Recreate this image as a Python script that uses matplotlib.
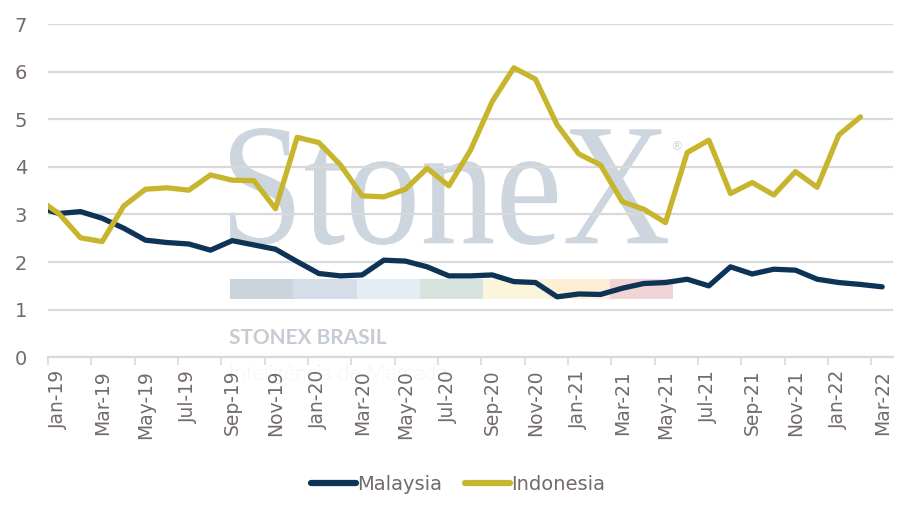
import numpy as np
import matplotlib
matplotlib.use("Agg")
import matplotlib.pyplot as plt
from matplotlib.textpath import TextPath
from matplotlib.font_manager import FontProperties
from matplotlib.patches import PathPatch, Rectangle
from matplotlib.transforms import Affine2D

# monthly series, Dec-18 (only partly visible at the left edge) .. Mar-22
months = ["Dec-18",
          "Jan-19", "Feb-19", "Mar-19", "Apr-19", "May-19", "Jun-19", "Jul-19", "Aug-19",
          "Sep-19", "Oct-19", "Nov-19", "Dec-19",
          "Jan-20", "Feb-20", "Mar-20", "Apr-20", "May-20", "Jun-20", "Jul-20", "Aug-20",
          "Sep-20", "Oct-20", "Nov-20", "Dec-20",
          "Jan-21", "Feb-21", "Mar-21", "Apr-21", "May-21", "Jun-21", "Jul-21", "Aug-21",
          "Sep-21", "Oct-21", "Nov-21", "Dec-21",
          "Jan-22", "Feb-22", "Mar-22"]
malaysia = [3.16,
            3.02, 3.06, 2.92, 2.71, 2.46, 2.41, 2.38, 2.25, 2.45, 2.36, 2.27, 2.01,
            1.76, 1.71, 1.73, 2.04, 2.02, 1.90, 1.71, 1.71, 1.73, 1.59, 1.57, 1.27,
            1.33, 1.32, 1.45, 1.55, 1.57, 1.64, 1.50, 1.90, 1.75, 1.85, 1.83, 1.64,
            1.57, 1.53, 1.48]
indonesia = [3.34,
             3.02, 2.51, 2.43, 3.18, 3.53, 3.56, 3.51, 3.83, 3.72, 3.71, 3.12, 4.62,
             4.51, 4.04, 3.39, 3.37, 3.53, 3.97, 3.60, 4.35, 5.37, 6.08, 5.84, 4.88,
             4.27, 4.04, 3.27, 3.11, 2.83, 4.30, 4.56, 3.44, 3.67, 3.41, 3.90, 3.57,
             4.67, 5.05, np.nan]

navy = "#0d3456"
mustard = "#c8b52e"
txt = "#736a6a"
grid = "#d9d9d9"
W, H = 916, 517

plt.rcParams["font.family"] = ["DejaVu Sans"]
fig = plt.figure(figsize=(W / 100, H / 100), dpi=100)
ax = fig.add_axes([48 / W, 1 - 357.3 / H, (893 - 48) / W, (357.3 - 24) / H])
ax.patch.set_visible(False)


def px(x, y):
    return x / W, 1 - y / H


# watermark, drawn under the axes
tp = TextPath((0, 0), "StoneX", size=100, prop=FontProperties(family="Liberation Serif"))
ext = tp.get_extents()
x0, y0 = px(230, 245)
x1, y1 = px(668, 128)
tr = Affine2D().translate(-ext.x0, -ext.y0).scale((x1 - x0) / ext.width, (y1 - y0) / ext.height).translate(x0, y0)
fig.patches.append(PathPatch(tr.transform_path(tp), transform=fig.transFigure,
                             facecolor="#cdd6df", edgecolor="none", zorder=-5))
fig.text(*px(677, 147), "®", fontsize=9, color="#cdd6df", ha="center", va="center", zorder=-5)
strip = ["#cbd3dc", "#d5dde8", "#e3edf5", "#d5e3dc", "#fbf5dc", "#fdeed6", "#f1d5d6"]
for i, c in enumerate(strip):
    bx, by = px(230 + i * 63.3, 299)
    fig.patches.append(Rectangle((bx, by), 63.3 / W, 20 / H, transform=fig.transFigure,
                                 facecolor=c, edgecolor="none", zorder=-5))
fig.text(*px(229, 338), "STONEX BRASIL", fontsize=15, fontweight="bold", color="#c5ccd3",
         family="Lato", va="center", ha="left", zorder=-5)
fig.text(*px(229, 374), "Inteligência de Mercado", fontsize=15.5, fontweight="light",
         family="Lato", color="#d3dbe3", va="center", ha="left", zorder=-5)

x = np.arange(-1, len(months) - 1)
ax.plot(x, malaysia, color=navy, lw=3.8, solid_capstyle="round", label="Malaysia", zorder=3)
ax.plot(x, indonesia, color=mustard, lw=3.8, solid_capstyle="round", label="Indonesia", zorder=3)

ax.set_xlim(-0.5, 38.5)
ax.set_ylim(0, 7)
ax.set_yticks(range(8))
ax.yaxis.grid(True, color=grid, lw=1.6)
ax.tick_params(axis="y", length=0, pad=15, labelsize=14, labelcolor=txt)

ax.set_xticks(np.arange(-0.5, 38, 2))
ax.set_xticklabels([])
ax.set_xticks(np.arange(0, 39, 2), minor=True)
ax.set_xticklabels(months[1::2], minor=True, rotation=90)
ax.tick_params(axis="x", which="major", length=6, width=1.2, color=grid)
ax.tick_params(axis="x", which="minor", length=0, pad=9, labelsize=13.5, labelcolor=txt)

for s in ["left", "right", "top"]:
    ax.spines[s].set_visible(False)
ax.spines["bottom"].set_color(grid)
ax.spines["bottom"].set_linewidth(1.6)

ax.legend(loc="center", bbox_to_anchor=(0.5, 1 - 484 / H), bbox_transform=fig.transFigure,
          ncol=2, frameon=False, fontsize=14, handlelength=2.3, handletextpad=0.05,
          columnspacing=1.2, labelcolor=txt)
for ln in ax.get_legend().get_lines():
    ln.set_linewidth(4.5)

fig.savefig("out.png", dpi=100)
